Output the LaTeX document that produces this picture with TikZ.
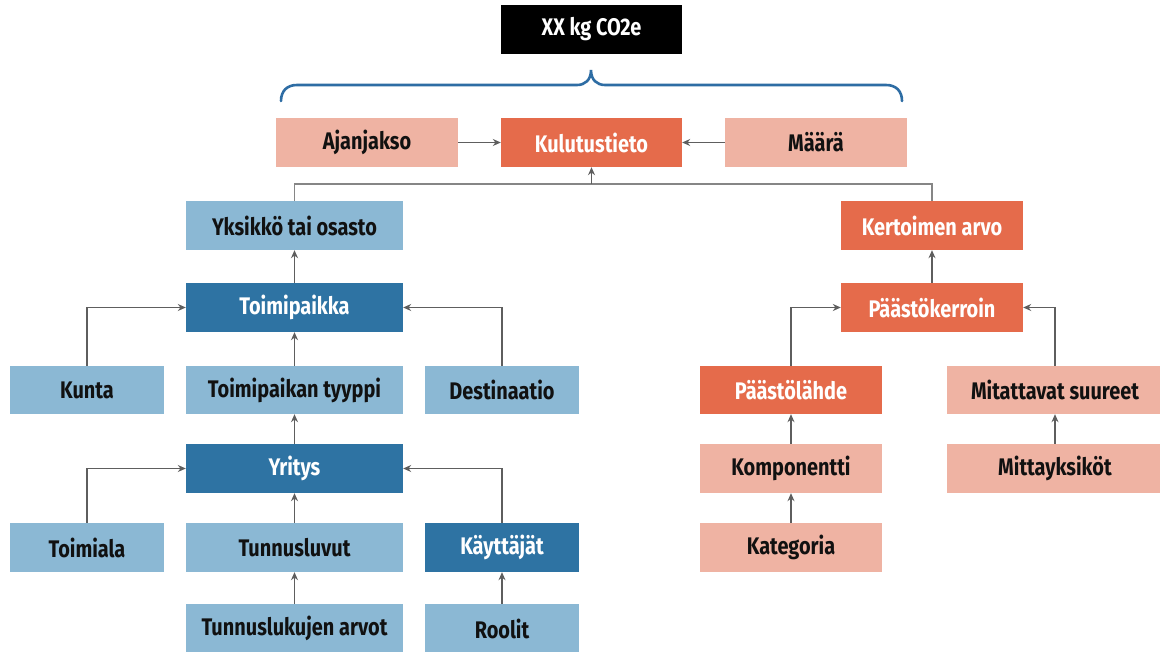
\documentclass[tikz,border=0pt]{standalone}
\usepackage{fontspec}
\setmainfont{Fira Sans}[FakeStretch=0.83]
\usetikzlibrary{arrows.meta}
\definecolor{lblue}{HTML}{8BB8D4}
\definecolor{dblue}{HTML}{2E73A3}
\definecolor{orng}{HTML}{E56B4B}
\definecolor{salm}{HTML}{EFB3A3}
\definecolor{txt}{HTML}{111111}
\definecolor{bracec}{HTML}{2E6DA4}
\definecolor{linec}{HTML}{5E5E5E}
\tikzset{
  box/.style={rectangle, inner sep=0pt, minimum height=49pt, font=\fontsize{24}{27}\selectfont\bfseries},
  lbx/.style={box, fill=lblue, text=txt},
  dbx/.style={box, fill=dblue, text=white},
  obx/.style={box, fill=orng, text=white},
  sbx/.style={box, fill=salm, text=txt},
  kbx/.style={box, fill=black, text=white},
  conn/.style={draw=linec, line width=1.1pt, -{Stealth[length=8pt,width=7pt]}},
  plain/.style={draw=linec!75, line width=1.1pt},
  bracestyle/.style={draw=bracec, line width=2.6pt, line cap=round}
}
\begin{document}
\begin{tikzpicture}[x=1pt,y=-1pt]
\useasboundingbox (0,0) rectangle (1160,652);
\clip (0,0) rectangle (1160,652);
\fill[white] (0,0) rectangle (1160,652);

% top
\node[kbx, minimum width=181pt] (total) at (591.5,29.5) {XX kg CO2e};
\draw[bracestyle] (281,101) .. controls (281,91) and (287,85) .. (297,85) -- (577,85)
  .. controls (585,85) and (591,80) .. (591,70)
  .. controls (591,80) and (597,85) .. (605,85) -- (886,85)
  .. controls (896,85) and (902,91) .. (902,101);

% row 1
\node[sbx, minimum width=182pt] (ajan) at (367,142.5) {Ajanjakso};
\node[obx, minimum width=181pt] (kulu) at (591.5,142.5) {Kulutustieto};
\node[sbx, minimum width=182pt] (maara) at (816,142.5) {Määrä};

% left tree
\node[lbx, minimum width=217pt] (yks) at (294.5,225.5) {Yksikkö tai osasto};
\node[dbx, minimum width=217pt] (toimi) at (294.5,307.5) {Toimipaikka};
\node[lbx, minimum width=154pt, minimum height=48pt] (kunta) at (87,390) {Kunta};
\node[lbx, minimum width=217pt, minimum height=48pt] (tyyppi) at (294.5,390) {Toimipaikan tyyppi};
\node[lbx, minimum width=154pt, minimum height=48pt] (dest) at (502,390) {Destinaatio};
\node[dbx, minimum width=217pt] (yritys) at (294.5,468.5) {Yritys};
\node[lbx, minimum width=154pt] (toimiala) at (87,547.5) {Toimiala};
\node[lbx, minimum width=217pt] (tunn) at (294.5,547.5) {Tunnusluvut};
\node[dbx, minimum width=154pt] (kayt) at (502,547.5) {Käyttäjät};
\node[lbx, minimum width=217pt] (arvot) at (294.5,628.5) {Tunnuslukujen arvot};
\node[lbx, minimum width=154pt] (roolit) at (502,628.5) {Roolit};

% right tree
\node[obx, minimum width=182pt] (kert) at (932,225.5) {Kertoimen arvo};
\node[obx, minimum width=182pt] (paasto) at (932,307.5) {Päästökerroin};
\node[obx, minimum width=182pt, minimum height=48pt] (lahde) at (791,390) {Päästölähde};
\node[sbx, minimum width=216pt, minimum height=48pt] (mitat) at (1055,390) {Mitattavat suureet};
\node[sbx, minimum width=182pt] (komp) at (791,468.5) {Komponentti};
\node[sbx, minimum width=216pt] (mitty) at (1055,468.5) {Mittayksiköt};
\node[sbx, minimum width=182pt] (kat) at (791,547.5) {Kategoria};

% connectors
\draw[conn] (ajan) -- (kulu);
\draw[conn] (maara) -- (kulu);
\coordinate (j) at (591.5,184);
\draw[plain] (yks.north) |- (j) -| (kert.north);
\draw[conn] (j) -- (kulu.south);

\draw[conn] (toimi) -- (yks);
\draw[conn] (kunta.north) |- (toimi.west);
\draw[conn] (dest.north) |- (toimi.east);
\draw[conn] (tyyppi) -- (toimi);
\draw[conn] (yritys) -- (tyyppi);
\draw[conn] (toimiala.north) |- (yritys.west);
\draw[conn] (kayt.north) |- (yritys.east);
\draw[conn] (tunn) -- (yritys);
\draw[conn] (arvot) -- (tunn);
\draw[conn] (roolit) -- (kayt);

\draw[conn] (paasto) -- (kert);
\draw[conn] (lahde.north) |- (paasto.west);
\draw[conn] (mitat.north) |- (paasto.east);
\draw[conn] (komp) -- (lahde);
\draw[conn] (kat) -- (komp);
\draw[conn] (mitty) -- (mitat);
\end{tikzpicture}
\end{document}
